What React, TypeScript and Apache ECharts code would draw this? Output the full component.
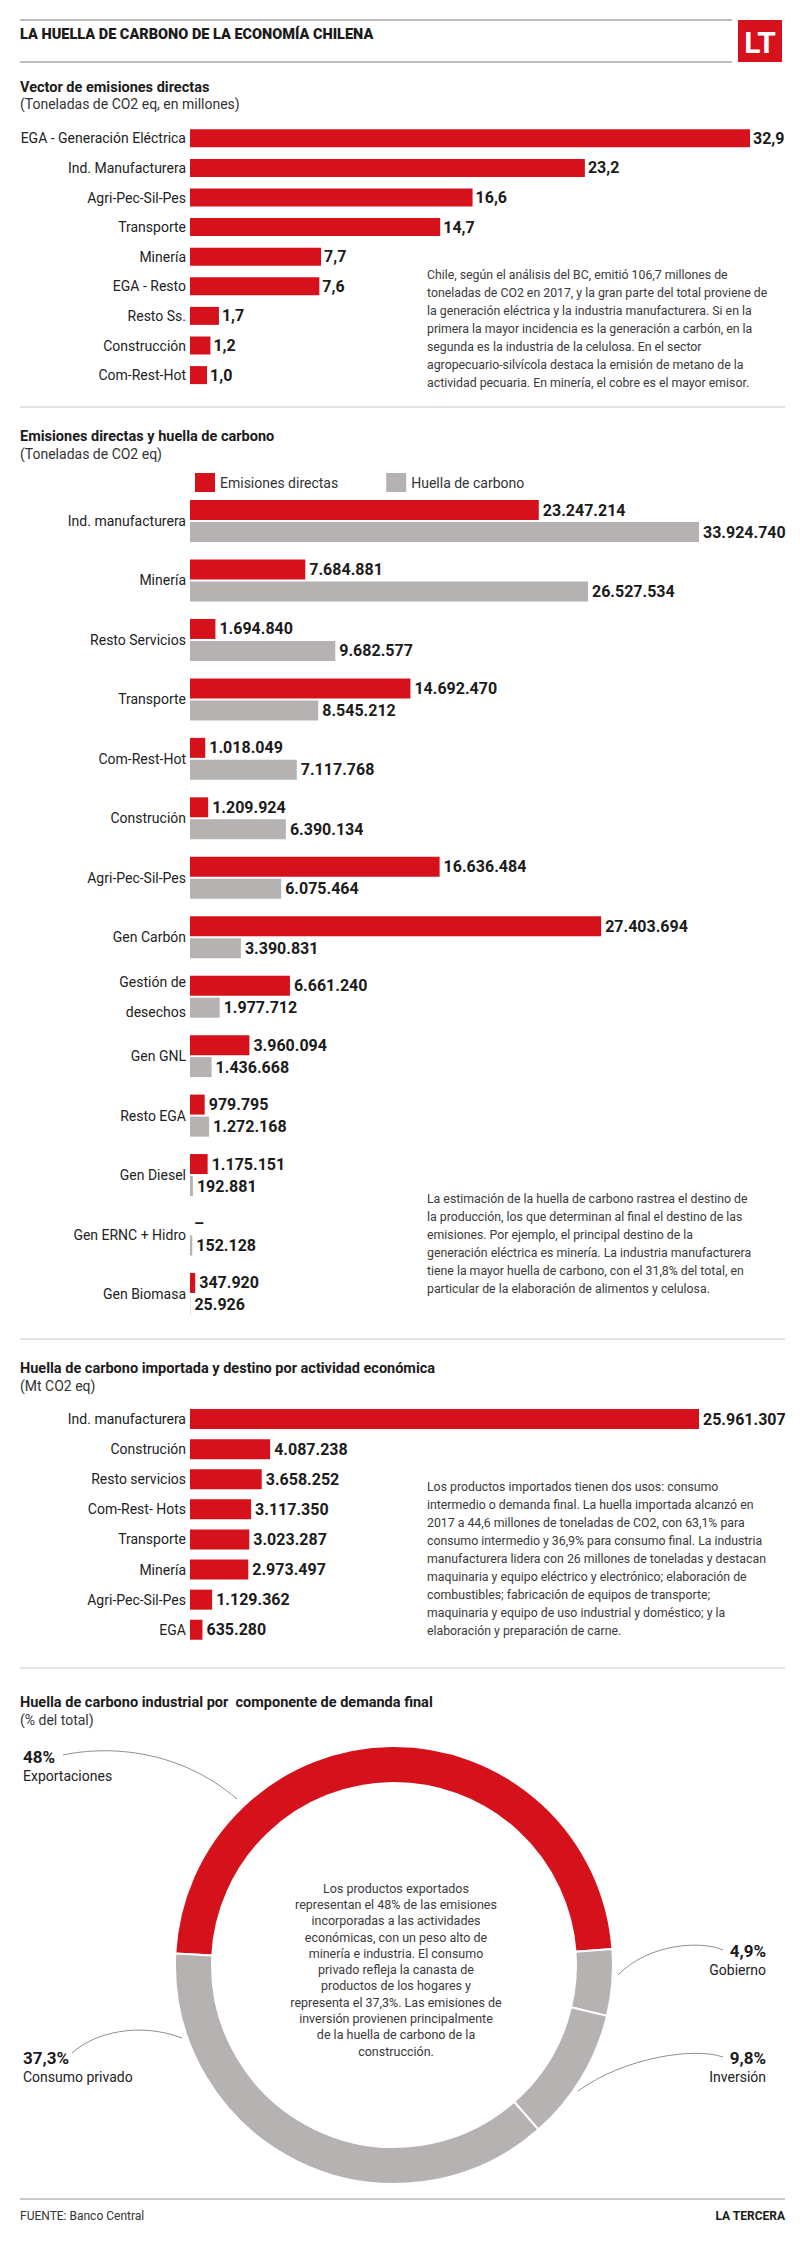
import React, { useEffect, useRef } from "react";
import * as echarts from "echarts";

// ---------- DATA ----------
const vectorCategories = [
  "EGA - Generación Eléctrica",
  "Ind. Manufacturera",
  "Agri-Pec-Sil-Pes",
  "Transporte",
  "Minería",
  "EGA - Resto",
  "Resto Ss.",
  "Construcción",
  "Com-Rest-Hot",
];
const vectorValues = [32.9, 23.2, 16.6, 14.7, 7.7, 7.6, 1.7, 1.2, 1.0];

const emisCategories = [
  "Ind. manufacturera",
  "Minería",
  "Resto Servicios",
  "Transporte",
  "Com-Rest-Hot",
  "Construción",
  "Agri-Pec-Sil-Pes",
  "Gen Carbón",
  "Gestión de\ndesechos",
  "Gen GNL",
  "Resto EGA",
  "Gen Diesel",
  "Gen ERNC + Hidro",
  "Gen Biomasa",
];
const emisDirectas = [
  23247214, 7684881, 1694840, 14692470, 1018049, 1209924, 16636484, 27403694,
  6661240, 3960094, 979795, 1175151, 0, 347920,
];
const emisHuella = [
  33924740, 26527534, 9682577, 8545212, 7117768, 6390134, 6075464, 3390831,
  1977712, 1436668, 1272168, 192881, 152128, 25926,
];

const importCategories = [
  "Ind. manufacturera",
  "Construción",
  "Resto servicios",
  "Com-Rest- Hots",
  "Transporte",
  "Minería",
  "Agri-Pec-Sil-Pes",
  "EGA",
];
const importValues = [
  25961307, 4087238, 3658252, 3117350, 3023287, 2973497, 1129362, 635280,
];

const demandNames = ["Exportaciones", "Gobierno", "Inversión", "Consumo privado"];
const demandValues = [48, 4.9, 9.8, 37.3];

const para1 = [
  "Chile, según el análisis del BC, emitió 106,7 millones de",
  "toneladas de CO2 en 2017, y la gran parte del total proviene de",
  "la generación eléctrica y la industria manufacturera. Si en la",
  "primera la mayor incidencia es la generación a carbón, en la",
  "segunda es la industria de la celulosa. En el sector",
  "agropecuario-silvícola destaca la emisión de metano de la",
  "actividad pecuaria. En minería, el cobre es el mayor emisor.",
];
const para2 = [
  "La estimación de la huella de carbono rastrea el destino de",
  "la producción, los que determinan al final el destino de las",
  "emisiones. Por ejemplo, el principal destino de la",
  "generación eléctrica es minería. La industria manufacturera",
  "tiene la mayor huella de carbono, con el 31,8% del total, en",
  "particular de la elaboración de alimentos y celulosa.",
];
const para3 = [
  "Los productos importados tienen dos usos: consumo",
  "intermedio o demanda final. La huella importada alcanzó en",
  "2017 a 44,6 millones de toneladas de CO2, con 63,1% para",
  "consumo intermedio y 36,9% para consumo final. La industria",
  "manufacturera lidera con 26 millones de toneladas y destacan",
  "maquinaria y equipo eléctrico y electrónico; elaboración de",
  "combustibles; fabricación de equipos de transporte;",
  "maquinaria y equipo de uso industrial y doméstico; y la",
  "elaboración y preparación de carne.",
];
const donutText = [
  "Los productos exportados",
  "representan el 48% de las emisiones",
  "incorporadas a las actividades",
  "económicas, con un peso alto de",
  "minería e industria. El consumo",
  "privado refleja la canasta de",
  "productos de los hogares y",
  "representa el 37,3%. Las emisiones de",
  "inversión provienen principalmente",
  "de la huella de carbono de la",
  "construcción.",
];

// ---------- STYLE ----------
const RED = "#d5121c";
const GRAY = "#b5b2b1";
const INK = "#1b1b1b";
const TEXT = "#3a3a3a";
const LEADER = "#8f8f8f";
const FONT = "Roboto, 'Noto Sans', Arial, sans-serif";
const demandColors = [RED, GRAY, GRAY, GRAY];

// label placement for the donut annotations
const pieLabelLayout = [
  { x: 23, y: 1747, align: "left" },
  { x: 766, y: 1941, align: "right" },
  { x: 766, y: 2048, align: "right" },
  { x: 23, y: 2048, align: "left" },
];
// leader curves (cubic bezier: start, control 1, control 2, end)
const leaderCurves = [
  [63, 1755, 110, 1745, 180, 1750, 237, 1799],
  [723, 1950, 700, 1940, 648, 1944, 618, 1975],
  [723, 2057, 695, 2047, 625, 2057, 578, 2091],
  [72, 2053, 95, 2032, 140, 2022, 182, 2038],
];

const fmtThousands = (n: number) =>
  String(Math.round(n)).replace(/\B(?=(\d{3})+(?!\d))/g, ".");
const fmtDecimal = (n: number) => n.toFixed(1).replace(".", ",");
const fmtPct = (n: number) => String(n).replace(".", ",") + "%";

const text = (
  x: number,
  y: number,
  str: string,
  size: number,
  weight: string | number = "normal",
  fill = INK,
  align = "left",
  vAlign = "middle",
  lineHeight?: number
) => ({
  type: "text",
  x,
  y,
  silent: true,
  style: {
    text: str,
    fill,
    fontSize: size,
    fontWeight: weight,
    fontFamily: FONT,
    textAlign: align,
    textVerticalAlign: vAlign,
    lineHeight: lineHeight,
  },
});

const hline = (y: number, x1: number, x2: number, color: string, w: number) => ({
  type: "line",
  silent: true,
  shape: { x1, y1: y, x2, y2: y },
  style: { stroke: color, lineWidth: w },
});

const catAxis = (gridIndex: number, data: string[], lineHeight = 16) => ({
  type: "category",
  gridIndex,
  data,
  inverse: true,
  axisLine: { show: false },
  axisTick: { show: false },
  axisLabel: {
    fontSize: 14,
    color: "#222",
    fontFamily: FONT,
    margin: 4,
    lineHeight,
  },
});

const valAxis = (gridIndex: number) => ({
  type: "value",
  gridIndex,
  min: 0,
  max: (v: any) => v.max,
  show: false,
  splitLine: { show: false },
});

const valueLabel = (formatter: (p: any) => string, distance = 4) => ({
  show: true,
  position: "right",
  distance,
  color: INK,
  fontSize: 16,
  fontWeight: "bold",
  fontFamily: FONT,
  formatter,
});

export default function App() {
  const ref = useRef<HTMLDivElement>(null);

  useEffect(() => {
    if (!ref.current) return;
    const chart = echarts.init(ref.current, undefined, { renderer: "svg" });

    const option: any = {
      animation: false,
      backgroundColor: "#ffffff",
      textStyle: { fontFamily: FONT },
      legend: {
        data: ["Emisiones directas", "Huella de carbono"],
        left: 190,
        top: 468,
        icon: "rect",
        itemWidth: 20,
        itemHeight: 19,
        itemGap: 48,
        selectedMode: false,
        textStyle: { fontSize: 14, color: "#333", fontFamily: FONT },
      },
      grid: [
        { left: 190, top: 123.5, width: 560, height: 266.4 },
        { left: 190, top: 491.3, width: 509, height: 832.4 },
        { left: 190, top: 1404, width: 509, height: 240.8 },
      ],
      xAxis: [valAxis(0), valAxis(1), valAxis(2)],
      yAxis: [
        catAxis(0, vectorCategories),
        catAxis(1, emisCategories, 30),
        catAxis(2, importCategories),
      ],
      series: [
        {
          type: "bar",
          xAxisIndex: 0,
          yAxisIndex: 0,
          data: vectorValues,
          barWidth: 18,
          itemStyle: { color: RED },
          label: valueLabel((p) => fmtDecimal(p.value), 3),
        },
        {
          type: "bar",
          name: "Emisiones directas",
          xAxisIndex: 1,
          yAxisIndex: 1,
          data: emisDirectas,
          barWidth: 20,
          barGap: "10%",
          itemStyle: { color: RED },
          label: valueLabel((p) => (p.value === 0 ? "–" : fmtThousands(p.value))),
        },
        {
          type: "bar",
          name: "Huella de carbono",
          xAxisIndex: 1,
          yAxisIndex: 1,
          data: emisHuella,
          barWidth: 20,
          barGap: "10%",
          itemStyle: { color: GRAY },
          label: valueLabel((p) => fmtThousands(p.value)),
        },
        {
          type: "bar",
          xAxisIndex: 2,
          yAxisIndex: 2,
          data: importValues,
          barWidth: 20,
          itemStyle: { color: RED },
          label: valueLabel((p) => fmtThousands(p.value)),
        },
        {
          type: "pie",
          center: [394, 1965],
          radius: [182, 219],
          startAngle: 177,
          clockwise: true,
          avoidLabelOverlap: false,
          itemStyle: { borderColor: "#ffffff", borderWidth: 2 },
          data: demandNames.map((name, i) => ({
            name,
            value: demandValues[i],
            itemStyle: { color: demandColors[i] },
          })),
          label: {
            show: true,
            position: "outside",
            formatter: (p: any) => `{v|${fmtPct(p.value)}}\n{n|${p.name}}`,
            rich: {
              v: { fontSize: 17, fontWeight: "bold", color: INK, fontFamily: FONT, lineHeight: 19 },
              n: { fontSize: 14, color: "#222", fontFamily: FONT, lineHeight: 19 },
            },
          },
          labelLine: { show: false },
          labelLayout: (p: any) => {
            const L = pieLabelLayout[p.dataIndex];
            return { x: L.x, y: L.y, align: L.align, verticalAlign: "top" };
          },
        },
      ],
      graphic: [
        hline(20, 20, 732, "#bdbdbd", 2),
        hline(62, 20, 732, "#bdbdbd", 2),
        {
          type: "rect",
          silent: true,
          shape: { x: 738, y: 20, width: 44, height: 42 },
          style: { fill: RED },
        },
        text(760, 42, "LT", 30, "bold", "#ffffff", "center"),
        text(20, 34, "LA HUELLA DE CARBONO DE LA ECONOMÍA CHILENA", 14.5, 900),

        text(20, 87, "Vector de emisiones directas", 14.5, "bold"),
        text(20, 104, "(Toneladas de CO2 eq, en millones)", 14, "normal", "#333"),
        text(427, 266, para1.join("\n"), 12.3, "normal", TEXT, "left", "top", 18),
        hline(407, 20, 785, "#e4e4e4", 2),

        text(20, 436, "Emisiones directas y huella de carbono", 14.5, "bold"),
        text(20, 454, "(Toneladas de CO2 eq)", 14, "normal", "#333"),
        text(427, 1190, para2.join("\n"), 12.3, "normal", TEXT, "left", "top", 18),
        hline(1339, 20, 785, "#e4e4e4", 2),

        text(20, 1368, "Huella de carbono importada y destino por actividad económica", 14.5, "bold"),
        text(20, 1386, "(Mt CO2 eq)", 14, "normal", "#333"),
        text(427, 1478, para3.join("\n"), 12.3, "normal", TEXT, "left", "top", 18),
        hline(1668, 20, 785, "#e4e4e4", 2),

        text(20, 1702, "Huella de carbono industrial por  componente de demanda final", 14.5, "bold"),
        text(20, 1720, "(% del total)", 14, "normal", "#333"),
        text(396, 1880, donutText.join("\n"), 12.5, "normal", TEXT, "center", "top", 16.3),

        ...leaderCurves.map((c) => ({
          type: "bezierCurve",
          silent: true,
          shape: {
            x1: c[0], y1: c[1], cpx1: c[2], cpy1: c[3],
            cpx2: c[4], cpy2: c[5], x2: c[6], y2: c[7],
          },
          style: { stroke: LEADER, lineWidth: 1, fill: "none" },
        })),

        hline(2199, 20, 785, "#b9b9b9", 1.5),
        text(20, 2216, "FUENTE: Banco Central", 12, "normal", "#333"),
        text(785, 2216, "LA TERCERA", 12, "bold", INK, "right"),
      ],
    };

    chart.setOption(option);
    return () => chart.dispose();
  }, []);

  return (
    <div
      ref={ref}
      style={{
        position: "absolute",
        left: 0,
        top: 0,
        width: 800,
        height: 2245,
        background: "#ffffff",
      }}
    />
  );
}
